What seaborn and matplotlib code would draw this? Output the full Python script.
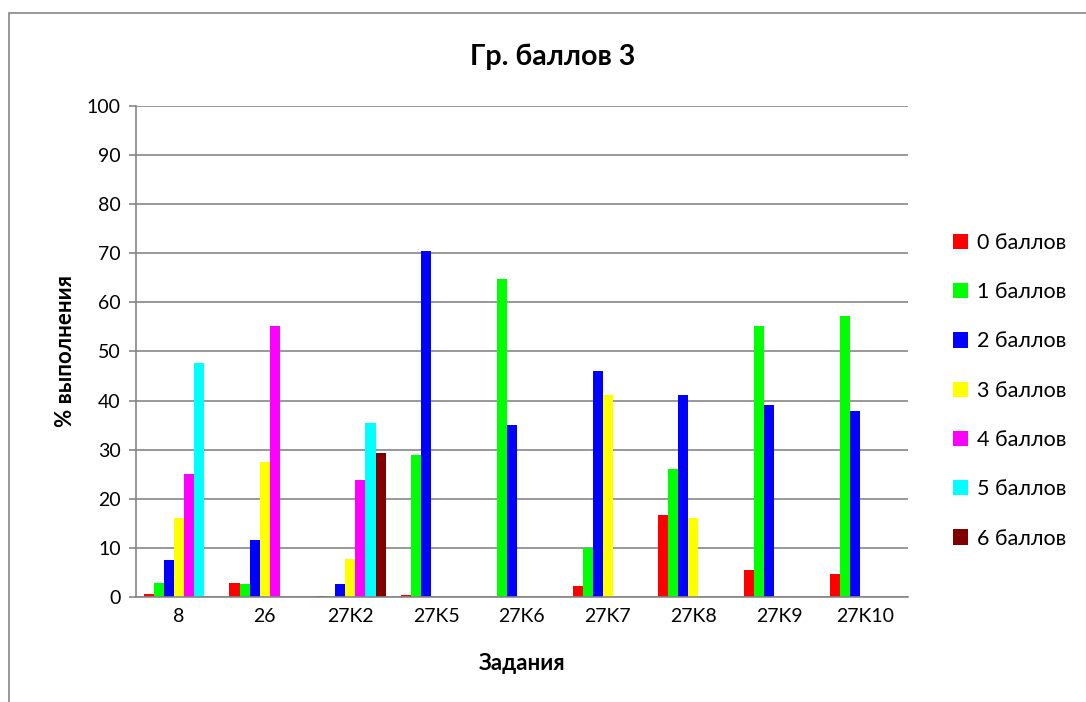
import numpy as np
import pandas as pd
import seaborn as sns
import matplotlib.pyplot as plt
from matplotlib.patches import Rectangle

# data
tasks = ["8", "26", "27K2", "27K5", "27K6", "27K7", "27K8", "27K9", "27K10"]
series_names = ["0 баллов", "1 баллов", "2 баллов", "3 баллов",
                "4 баллов", "5 баллов", "6 баллов"]
score_0 = [0.7, 2.8, 0.1, 0.5, 0.0, 2.3, 16.6, 5.4, 4.6]
score_1 = [2.8, 2.7, 0.3, 28.9, 64.7, 10.0, 26.0, 55.1, 57.3]
score_2 = [7.6, 11.7, 2.6, 70.4, 35.1, 46.0, 41.2, 39.1, 37.8]
score_3 = [16.0, 27.4, 7.7, 0.0, 0.0, 41.2, 16.1, 0.0, 0.0]
score_4 = [25.0, 55.1, 23.9, 0.0, 0.0, 0.0, 0.0, 0.0, 0.0]
score_5 = [47.6, 0.0, 35.5, 0.0, 0.0, 0.0, 0.0, 0.0, 0.0]
score_6 = [0.0, 0.0, 29.3, 0.0, 0.0, 0.0, 0.0, 0.0, 0.0]
colors = ["#ff0000", "#00ff00", "#0000ff", "#ffff00",
          "#ff00ff", "#00ffff", "#800000"]

all_scores = [score_0, score_1, score_2, score_3, score_4, score_5, score_6]
rows = []
for name, vals in zip(series_names, all_scores):
    for t, v in zip(tasks, vals):
        rows.append({"task": t, "series": name, "value": v})
df = pd.DataFrame(rows)

sns.set_style("white")
plt.rcParams["font.family"] = ["Lato", "DejaVu Sans"]
plt.rcParams["text.color"] = "black"
plt.rcParams["xtick.color"] = "black"
plt.rcParams["ytick.color"] = "black"
plt.rcParams["axes.labelcolor"] = "black"

fig = plt.figure(figsize=(10.86, 7.02), dpi=100)
ax = fig.add_axes([0.1252, 0.1496, 0.7108, 0.6994])

sns.barplot(data=df, x="task", y="value", hue="series", order=tasks,
            hue_order=series_names, palette=colors, width=0.82,
            saturation=1, linewidth=0, ax=ax, legend=True)

grid_c = "#868686"
ax.set_ylim(0, 100)
ax.set_xlim(-0.5, len(tasks) - 0.5)
ax.set_yticks(np.arange(0, 101, 10))
ax.yaxis.grid(True, color=grid_c, linewidth=1.2)
ax.set_axisbelow(True)
for s in ["top", "right"]:
    ax.spines[s].set_visible(False)
for s in ["left", "bottom"]:
    ax.spines[s].set_color(grid_c)
    ax.spines[s].set_linewidth(1.2)

ax.set_xticks(np.arange(-0.5, len(tasks), 1), minor=True)
ax.tick_params(axis="x", which="major", length=0, labelsize=14, pad=8)
ax.tick_params(axis="x", which="minor", length=5, color=grid_c, width=1.2,
               direction="out")
ax.tick_params(axis="y", length=5, color=grid_c, width=1.2, labelsize=14,
               left=True, pad=6)

fig.text(553 / 1086, 1 - 57 / 702, "Гр. баллов 3", fontsize=20.5,
         fontweight="bold", ha="center", va="center")
ax.set_xlabel("Задания", fontsize=16, fontweight="bold", labelpad=20)
ax.set_ylabel("% выполнения", fontsize=16, fontweight="bold", labelpad=8)

handles, labels = ax.get_legend_handles_labels()
ax.legend(handles, labels, loc="center left", bbox_to_anchor=(1.033, 0.42),
          frameon=False, fontsize=15.5, labelspacing=1.36, handlelength=0.72,
          handleheight=0.72, handletextpad=0.42)

# outer chart frame
fig.patches.append(Rectangle((9 / 1086, -0.01), 1.1, 1 - 13 / 702 + 0.01,
                             transform=fig.transFigure, fill=False,
                             edgecolor="#868686", linewidth=1.2))

fig.savefig("out.png", dpi=100)
